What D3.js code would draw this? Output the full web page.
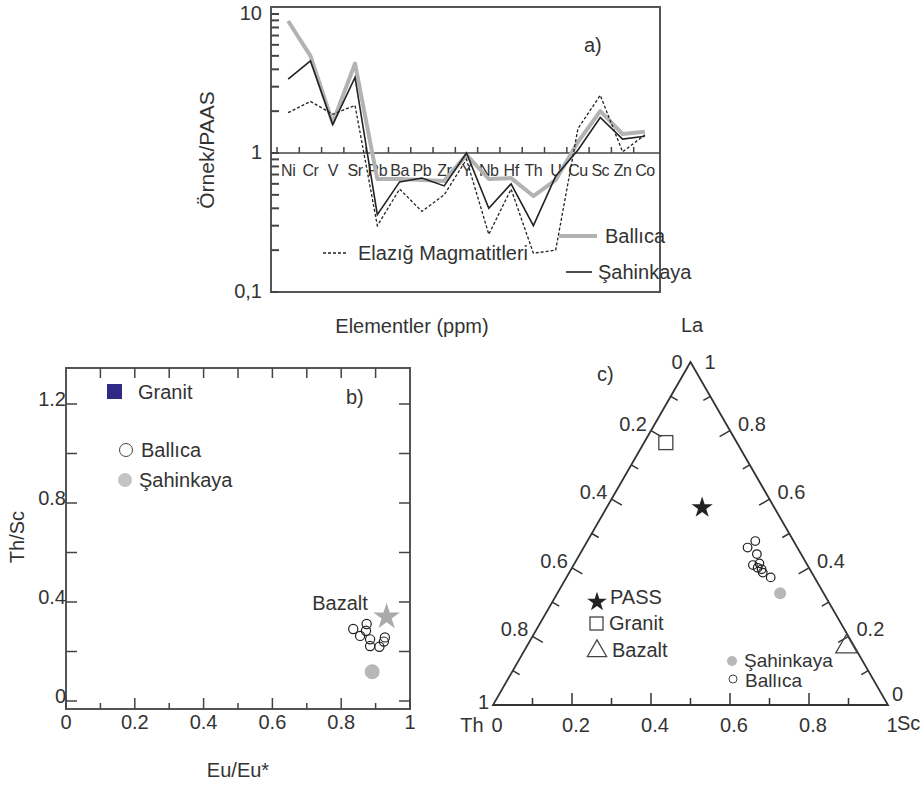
<!DOCTYPE html>
<html lang="en">
<head>
  <meta charset="UTF-8" />
  <script src="https://d3js.org/d3.v7.min.js"></script>
  <style>
    body { margin: 0; background: #fff; }
    text { font-family: "Liberation Sans", Arial, sans-serif; fill: #333; }
  </style>
</head>
<body>
  <div id="chart"></div>

  <script>
    // ---- panel a: element / PAAS spider diagram
    const elements = ["Ni", "Cr", "V", "Sr", "Rb", "Ba", "Pb", "Zr", "Y", "Nb", "Hf", "Th", "U", "Cu", "Sc", "Zn", "Co"];
    const ballica   = [8.9, 5.0, 1.65, 4.4, 0.65, 0.65, 0.64, 0.63, 0.97, 0.65, 0.66, 0.49, 0.64, 1.2, 2.0, 1.37, 1.42];
    const sahinkaya = [3.4, 4.6, 1.6, 3.5, 0.36, 0.62, 0.66, 0.58, 1.0, 0.4, 0.6, 0.3, 0.68, 1.05, 1.8, 1.26, 1.32];
    const elazig    = [1.95, 2.35, 1.9, 2.2, 0.3, 0.55, 0.38, 0.5, 0.9, 0.26, 0.55, 0.19, 0.2, 1.5, 2.6, 1.02, 1.35];
    const logTickLabels = [[10, "10"], [1, "1"], [0.1, "0,1"]];

    // ---- panel b: Th/Sc vs Eu/Eu*
    const ballicaEu = [0.835, 0.855, 0.874, 0.872, 0.884, 0.884, 0.911, 0.927, 0.924];
    const ballicaThSc = [0.291, 0.263, 0.311, 0.284, 0.249, 0.222, 0.219, 0.257, 0.24];
    const sahinkayaB = [0.89, 0.118];
    const bazaltB = [0.932, 0.34];

    // ---- panel c: La-Th-Sc ternary (La, Sc fractions, Th is the rest)
    const ballicaLa = [0.478, 0.459, 0.44, 0.408, 0.413, 0.396, 0.386, 0.372, 0.40];
    const ballicaSc = [0.425, 0.415, 0.448, 0.454, 0.468, 0.482, 0.49, 0.517, 0.47];
    const passC = [0.575, 0.242];
    const granitC = [0.765, 0.055];
    const bazaltC = [0.17, 0.81];
    const sahinkayaC = [0.326, 0.564];
    const ternTicks = [0, 0.2, 0.4, 0.6, 0.8, 1];

    const svg = d3.select("#chart").append("svg")
      .attr("width", 923).attr("height", 787);

    const axisCol = "#444";
    const fs = 20;

    // ================= panel a =================
    const a = svg.append("g");
    const xA = d3.scaleBand().domain(elements).range([277, 656]);
    const yA = d3.scaleLog().domain([0.1, 10]).range([292, 14]);
    const cx = d => xA(d) + xA.bandwidth() / 2;

    // frame
    a.append("rect").attr("x", 271).attr("y", 7).attr("width", 389).attr("height", 285)
      .attr("fill", "none").attr("stroke", "#555").attr("stroke-width", 2);

    // log ticks on the left, pointing in
    a.selectAll(".ytick").data(yA.ticks()).enter().append("line")
      .attr("x1", 271).attr("x2", 279)
      .attr("y1", d => yA(d)).attr("y2", d => yA(d))
      .attr("stroke", axisCol).attr("stroke-width", 2);
    a.selectAll(".ylab").data(logTickLabels).enter().append("text")
      .attr("x", 262).attr("y", d => yA(d[0]) + 6)
      .attr("text-anchor", "end").attr("font-size", fs)
      .text(d => d[1]);

    // the "1" reference line with element ticks
    a.append("line").attr("x1", 271).attr("x2", 660)
      .attr("y1", yA(1)).attr("y2", yA(1))
      .attr("stroke", axisCol).attr("stroke-width", 1.5);
    a.selectAll(".etick").data(elements).enter().append("line")
      .attr("x1", d => xA(d)).attr("x2", d => xA(d))
      .attr("y1", yA(1)).attr("y2", yA(1) - 6)
      .attr("stroke", axisCol).attr("stroke-width", 1.5);
    a.selectAll(".elab").data(elements).enter().append("text")
      .attr("x", d => cx(d)).attr("y", yA(1) + 23)
      .attr("text-anchor", "middle").attr("font-size", 16)
      .attr("letter-spacing", -0.5)
      .text(d => d);

    const lineA = d3.line().x((d, i) => cx(elements[i])).y(d => yA(d));
    a.append("path").datum(ballica).attr("d", lineA)
      .attr("fill", "none").attr("stroke", "#b3b3b3").attr("stroke-width", 4)
      .attr("stroke-linejoin", "round");
    a.append("path").datum(elazig).attr("d", lineA)
      .attr("fill", "none").attr("stroke", "#222").attr("stroke-width", 1.3)
      .attr("stroke-dasharray", "3,2");
    a.append("path").datum(sahinkaya).attr("d", lineA)
      .attr("fill", "none").attr("stroke", "#222").attr("stroke-width", 1.6);

    // legend a
    a.append("line").attr("x1", 323).attr("x2", 348).attr("y1", 253).attr("y2", 253)
      .attr("stroke", "#222").attr("stroke-width", 1.3).attr("stroke-dasharray", "3,2");
    a.append("text").attr("x", 358).attr("y", 260).attr("font-size", fs).text("Elazığ Magmatitleri");
    a.append("line").attr("x1", 559).attr("x2", 597).attr("y1", 236).attr("y2", 236)
      .attr("stroke", "#b3b3b3").attr("stroke-width", 4);
    a.append("text").attr("x", 605).attr("y", 243).attr("font-size", fs).text("Ballıca");
    a.append("line").attr("x1", 566).attr("x2", 592).attr("y1", 272).attr("y2", 272)
      .attr("stroke", "#222").attr("stroke-width", 1.6);
    a.append("text").attr("x", 598).attr("y", 279).attr("font-size", fs).text("Şahinkaya");
    a.append("text").attr("x", 584).attr("y", 52).attr("font-size", fs).text("a)");

    a.append("text").attr("transform", "translate(214,150) rotate(-90)")
      .attr("text-anchor", "middle").attr("font-size", 21).text("Örnek/PAAS");
    a.append("text").attr("x", 412).attr("y", 333)
      .attr("text-anchor", "middle").attr("font-size", fs).text("Elementler (ppm)");

    // ================= panel b =================
    const b = svg.append("g");
    const xB = d3.scaleLinear().domain([0, 1]).range([66, 410]);
    const yB = d3.scaleLinear().domain([0, 1.2]).range([701, 404]);
    const bTop = 368, bBot = 709;

    b.append("rect").attr("x", xB(0)).attr("y", bTop).attr("width", xB(1) - xB(0)).attr("height", bBot - bTop)
      .attr("fill", "none").attr("stroke", "#555").attr("stroke-width", 2);

    const xTicksB = d3.range(0, 11).map(i => i / 10);
    b.selectAll(".bt").data(xTicksB).enter().append("line")
      .attr("x1", d => xB(d)).attr("x2", d => xB(d))
      .attr("y1", bBot).attr("y2", (d, i) => bBot - (i % 2 === 0 ? 11 : 6))
      .attr("stroke", axisCol).attr("stroke-width", 1.5);
    b.selectAll(".tt").data(xTicksB.slice(1, 10)).enter().append("line")
      .attr("x1", d => xB(d)).attr("x2", d => xB(d))
      .attr("y1", bTop).attr("y2", bTop + 10)
      .attr("stroke", axisCol).attr("stroke-width", 1.5);
    b.selectAll(".bl").data([0, 0.2, 0.4, 0.6, 0.8, 1]).enter().append("text")
      .attr("x", d => xB(d)).attr("y", 729)
      .attr("text-anchor", "middle").attr("font-size", fs)
      .text(d => d3.format("")(d));

    const yTicksB = d3.range(0, 7).map(i => i * 0.2);
    b.selectAll(".lt").data(yTicksB).enter().append("line")
      .attr("x1", xB(0)).attr("x2", xB(0) + 11)
      .attr("y1", d => yB(d)).attr("y2", d => yB(d))
      .attr("stroke", axisCol).attr("stroke-width", 1.5);
    b.selectAll(".rt").data(yTicksB).enter().append("line")
      .attr("x1", xB(1)).attr("x2", xB(1) - 11)
      .attr("y1", d => yB(d)).attr("y2", d => yB(d))
      .attr("stroke", axisCol).attr("stroke-width", 1.5);
    b.selectAll(".yl").data([0, 0.4, 0.8, 1.2]).enter().append("text")
      .attr("x", 66).attr("y", d => yB(d) + 2)
      .attr("text-anchor", "end").attr("font-size", fs)
      .text(d => d3.format(".1~f")(d));

    b.append("text").attr("transform", "translate(24,537) rotate(-90)")
      .attr("text-anchor", "middle").attr("font-size", fs).text("Th/Sc");
    b.append("text").attr("x", 238).attr("y", 777)
      .attr("text-anchor", "middle").attr("font-size", fs).text("Eu/Eu*");

    b.selectAll(".bc").data(ballicaEu).enter().append("circle")
      .attr("cx", d => xB(d)).attr("cy", (d, i) => yB(ballicaThSc[i])).attr("r", 4.6)
      .attr("fill", "none").attr("stroke", "#222").attr("stroke-width", 1.2);
    b.append("circle").attr("cx", xB(sahinkayaB[0])).attr("cy", yB(sahinkayaB[1])).attr("r", 7.5)
      .attr("fill", "#b8b8b8");
    b.append("path").attr("d", d3.symbol(d3.symbolStar, 220)())
      .attr("transform", `translate(${xB(bazaltB[0])},${yB(bazaltB[1])})`)
      .attr("fill", "#aaaaaa");
    b.append("text").attr("x", 340).attr("y", 610).attr("text-anchor", "middle")
      .attr("font-size", fs).text("Bazalt");

    // legend b
    b.append("rect").attr("x", 107).attr("y", 384).attr("width", 15).attr("height", 15).attr("fill", "#302a86");
    b.append("text").attr("x", 138).attr("y", 399).attr("font-size", fs).text("Granit");
    b.append("circle").attr("cx", 126).attr("cy", 450).attr("r", 6.5)
      .attr("fill", "none").attr("stroke", "#444").attr("stroke-width", 1);
    b.append("text").attr("x", 141).attr("y", 457).attr("font-size", fs).text("Ballıca");
    b.append("circle").attr("cx", 125).attr("cy", 480).attr("r", 7).attr("fill", "#c4c4c4");
    b.append("text").attr("x", 139).attr("y", 487).attr("font-size", fs).text("Şahinkaya");
    b.append("text").attr("x", 346).attr("y", 404).attr("font-size", fs).text("b)");

    // ================= panel c =================
    const c = svg.append("g");
    const tx = d3.scaleLinear().domain([0, 1]).range([493, 888]);
    const ty = d3.scaleLinear().domain([0, 1]).range([705, 362]);
    // position from La and Sc fractions
    const tp = (la, sc) => [tx(sc + la / 2), ty(la)];

    const corners = [tp(1, 0), tp(0, 0), tp(0, 1)];
    c.append("path").attr("d", d3.line()(corners) + "Z")
      .attr("fill", "none").attr("stroke", "#333").attr("stroke-width", 1.8);

    const t10 = d3.range(1, 10).map(i => i / 10);
    // bottom (Sc) ticks, pointing up
    c.selectAll(".cb").data(t10).enter().append("line")
      .attr("x1", d => tp(0, d)[0]).attr("x2", d => tp(0, d)[0])
      .attr("y1", ty(0)).attr("y2", (d, i) => ty(0) - (i % 2 === 1 ? 12 : 7))
      .attr("stroke", "#333").attr("stroke-width", 1.5);
    // left side (Th), perpendicular inward
    c.selectAll(".cl").data(t10).enter().append("line")
      .each(function (d, i) {
        const p = tp(1 - d, 0), L = i % 2 === 1 ? 12 : 8;
        d3.select(this).attr("x1", p[0]).attr("y1", p[1])
          .attr("x2", p[0] + L * 0.866).attr("y2", p[1] + L * 0.5);
      })
      .attr("stroke", "#333").attr("stroke-width", 1.5);
    // right side (La), perpendicular inward
    c.selectAll(".cr").data(t10).enter().append("line")
      .each(function (d, i) {
        const p = tp(d, 1 - d), L = i % 2 === 1 ? 12 : 8;
        d3.select(this).attr("x1", p[0]).attr("y1", p[1])
          .attr("x2", p[0] - L * 0.866).attr("y2", p[1] + L * 0.5);
      })
      .attr("stroke", "#333").attr("stroke-width", 1.5);

    const fmt = d => d3.format("")(d);
    c.selectAll(".cbl").data(ternTicks).enter().append("text")
      .attr("x", d => tp(0, d)[0] + 4).attr("y", 732)
      .attr("text-anchor", "middle").attr("font-size", fs).text(fmt);
    c.selectAll(".cll").data(ternTicks.slice(1, 5)).enter().append("text")
      .attr("x", d => tp(1 - d, 0)[0] - 4).attr("y", d => tp(1 - d, 0)[1])
      .attr("text-anchor", "end").attr("font-size", fs).text(fmt);
    c.selectAll(".crl").data(ternTicks.slice(1, 5)).enter().append("text")
      .attr("x", d => tp(d, 1 - d)[0] + 8).attr("y", d => tp(d, 1 - d)[1])
      .attr("text-anchor", "start").attr("font-size", fs).text(fmt);
    c.append("text").attr("x", corners[0][0] - 8).attr("y", corners[0][1] + 7).attr("text-anchor", "end").attr("font-size", fs).text("0");
    c.append("text").attr("x", corners[0][0] + 14).attr("y", corners[0][1] + 7).attr("font-size", fs).text("1");
    c.append("text").attr("x", corners[1][0] - 4).attr("y", corners[1][1] + 4).attr("text-anchor", "end").attr("font-size", fs).text("1");
    c.append("text").attr("x", corners[2][0] + 4).attr("y", corners[2][1] - 4).attr("font-size", fs).text("0");

    c.append("text").attr("x", 692).attr("y", 332).attr("text-anchor", "middle").attr("font-size", fs).text("La");
    c.append("text").attr("x", 472).attr("y", 732).attr("text-anchor", "middle").attr("font-size", fs).text("Th");
    c.append("text").attr("x", 897).attr("y", 730).attr("font-size", fs).text("Sc");
    c.append("text").attr("x", 597).attr("y", 381).attr("font-size", fs).text("c)");

    // points
    c.selectAll(".cbc").data(ballicaLa).enter().append("circle")
      .attr("cx", (d, i) => tp(d, ballicaSc[i])[0]).attr("cy", (d, i) => tp(d, ballicaSc[i])[1])
      .attr("r", 4.3).attr("fill", "none").attr("stroke", "#222").attr("stroke-width", 1.2);
    const sp = tp(sahinkayaC[0], sahinkayaC[1]);
    c.append("circle").attr("cx", sp[0]).attr("cy", sp[1]).attr("r", 6).attr("fill", "#b8b8b8");
    const pp = tp(passC[0], passC[1]);
    c.append("path").attr("d", d3.symbol(d3.symbolStar, 140)())
      .attr("transform", `translate(${pp[0]},${pp[1]})`).attr("fill", "#222");
    const gp = tp(granitC[0], granitC[1]);
    c.append("rect").attr("x", gp[0] - 7).attr("y", gp[1] - 7).attr("width", 14).attr("height", 14)
      .attr("fill", "none").attr("stroke", "#444").attr("stroke-width", 1.3);
    const bp = tp(bazaltC[0], bazaltC[1]);
    c.append("path").attr("d", d3.symbol(d3.symbolTriangle, 200)())
      .attr("transform", `translate(${bp[0]},${bp[1]})`)
      .attr("fill", "none").attr("stroke", "#444").attr("stroke-width", 1.3);

    // legend c
    c.append("path").attr("d", d3.symbol(d3.symbolStar, 120)())
      .attr("transform", "translate(597,602)").attr("fill", "#222");
    c.append("text").attr("x", 610).attr("y", 604).attr("font-size", fs).text("PASS");
    c.append("rect").attr("x", 590).attr("y", 617).attr("width", 13).attr("height", 13)
      .attr("fill", "none").attr("stroke", "#444").attr("stroke-width", 1.3);
    c.append("text").attr("x", 609).attr("y", 630).attr("font-size", fs).text("Granit");
    c.append("path").attr("d", d3.symbol(d3.symbolTriangle, 160)())
      .attr("transform", "translate(597,651)")
      .attr("fill", "none").attr("stroke", "#444").attr("stroke-width", 1.3);
    c.append("text").attr("x", 612).attr("y", 657).attr("font-size", fs).text("Bazalt");
    c.append("circle").attr("cx", 732).attr("cy", 661).attr("r", 5).attr("fill", "#b8b8b8");
    c.append("text").attr("x", 744).attr("y", 667).attr("font-size", 19).text("Şahinkaya");
    c.append("circle").attr("cx", 733).attr("cy", 679).attr("r", 4)
      .attr("fill", "none").attr("stroke", "#444").attr("stroke-width", 1);
    c.append("text").attr("x", 745).attr("y", 687).attr("font-size", 19).text("Ballıca");
  </script>
</body>
</html>
